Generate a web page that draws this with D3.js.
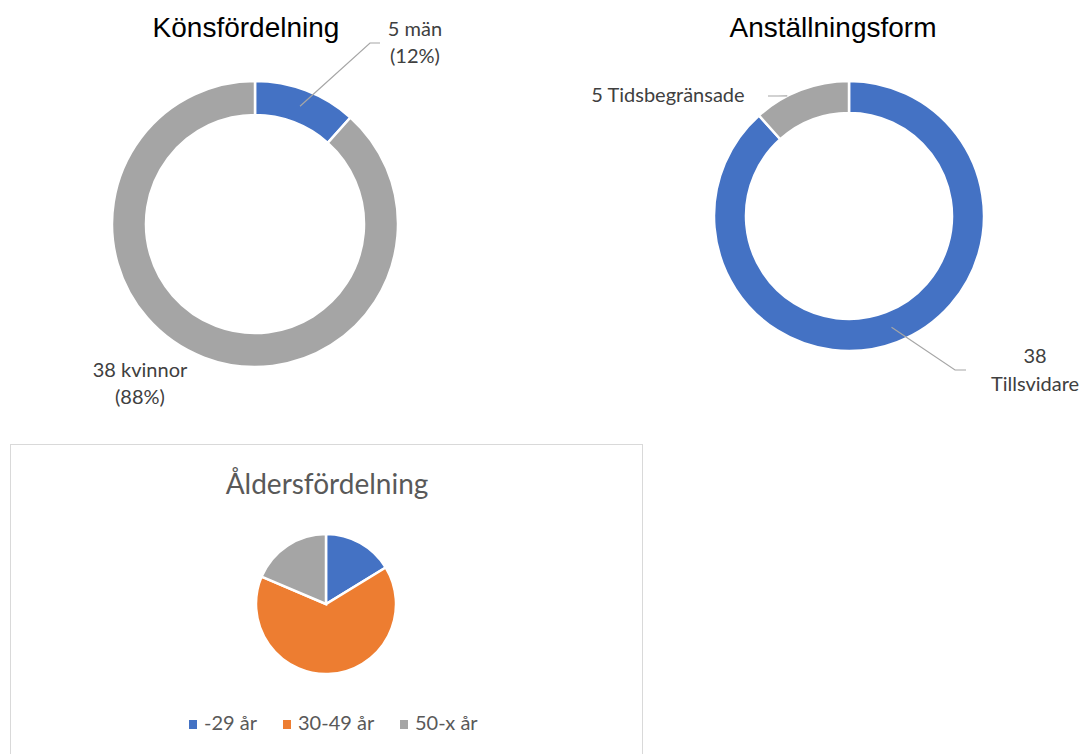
<!DOCTYPE html>
<html>
<head>
<meta charset="utf-8">
<script src="https://cdn.jsdelivr.net/npm/d3@7"></script>
<style>
  body { margin: 0; background: #fff; }
  svg { display: block; }
</style>
</head>
<body>
<div id="chart"></div>
<script>
'use strict';
// data
var genderLabels = ['män', 'kvinnor'];
var genderValues = [5, 38];
var genderPercent = ['12%', '88%'];

var employLabels = ['Tillsvidare', 'Tidsbegränsade'];
var employValues = [38, 5];

var ageLabels = ['-29 år', '30-49 år', '50-x år'];
var ageValues = [7, 28, 8];

var blue = '#4472c4', gray = '#a5a5a5', orange = '#ed7d31';
var labelFont = 'Lato, "Open Sans", sans-serif';

var svg = d3.select('#chart').append('svg')
  .attr('width', 1082)
  .attr('height', 754);

var pie = d3.pie().sort(null).value(function(d) { return d; });

function pointAt(cx, cy, angle, r) {
  return [cx + r * Math.sin(angle), cy - r * Math.cos(angle)];
}

/* Könsfördelning donut */
(function() {
  var cx = 255, cy = 224, outer = 143, inner = 109;
  var color = d3.scaleOrdinal().domain(genderLabels).range([blue, gray]);
  var arc = d3.arc().innerRadius(inner).outerRadius(outer);
  var g = svg.append('g').attr('transform', 'translate(' + cx + ',' + cy + ')');
  var arcs = pie(genderValues);
  g.selectAll('path')
    .data(arcs)
    .enter()
    .append('path')
    .attr('d', arc)
    .attr('fill', function(d, i) { return color(genderLabels[i]); })
    .attr('stroke', '#fff')
    .attr('stroke-width', 2.5);

  svg.append('text')
    .attr('x', 246).attr('y', 37)
    .attr('text-anchor', 'middle')
    .style('font-family', '"Liberation Sans", Arial, sans-serif')
    .style('font-size', '28px')
    .style('fill', '#000')
    .text('Könsfördelning');

  // leader for män
  var c = arc.centroid(arcs[0]);
  svg.append('polyline')
    .attr('points', [[cx + c[0], cy + c[1]], [370, 43], [380, 43]].join(' '))
    .attr('fill', 'none')
    .attr('stroke', '#a6a6a6')
    .attr('stroke-width', 1.2);

  var lbl = svg.append('text')
    .attr('text-anchor', 'middle')
    .style('font-family', labelFont)
    .style('font-size', '20px')
    .style('fill', '#404040');
  lbl.append('tspan').attr('x', 415).attr('y', 36).text(genderValues[0] + ' ' + genderLabels[0]);
  lbl.append('tspan').attr('x', 415).attr('y', 63).text('(' + genderPercent[0] + ')');

  var lbl2 = svg.append('text')
    .attr('text-anchor', 'middle')
    .style('font-family', labelFont)
    .style('font-size', '20px')
    .style('fill', '#404040');
  lbl2.append('tspan').attr('x', 140).attr('y', 377).text(genderValues[1] + ' ' + genderLabels[1]);
  lbl2.append('tspan').attr('x', 140).attr('y', 404).text('(' + genderPercent[1] + ')');
})();

/* Anställningsform donut */
(function() {
  var cx = 849, cy = 216, outer = 135, inner = 103;
  var color = d3.scaleOrdinal().domain(employLabels).range([blue, gray]);
  var arc = d3.arc().innerRadius(inner).outerRadius(outer);
  var g = svg.append('g').attr('transform', 'translate(' + cx + ',' + cy + ')');
  var arcs = pie(employValues);
  g.selectAll('path')
    .data(arcs)
    .enter()
    .append('path')
    .attr('d', arc)
    .attr('fill', function(d, i) { return color(employLabels[i]); })
    .attr('stroke', '#fff')
    .attr('stroke-width', 2.5);

  svg.append('text')
    .attr('x', 833).attr('y', 37)
    .attr('text-anchor', 'middle')
    .style('font-family', '"Liberation Sans", Arial, sans-serif')
    .style('font-size', '28px')
    .style('fill', '#000')
    .text('Anställningsform');

  // leader for Tillsvidare
  var c = arc.centroid(arcs[0]);
  svg.append('polyline')
    .attr('points', [[cx + c[0], cy + c[1]], [955, 370], [966, 370]].join(' '))
    .attr('fill', 'none')
    .attr('stroke', '#a6a6a6')
    .attr('stroke-width', 1.2);

  // leader for Tidsbegränsade
  var a = arcs[1].startAngle + 0.35 * (arcs[1].endAngle - arcs[1].startAngle);
  var p = pointAt(cx, cy, a, outer);
  svg.append('path')
    .attr('d', 'M768,96 L778,96 Q783,96 ' + p[0] + ',' + p[1])
    .attr('fill', 'none')
    .attr('stroke', '#a6a6a6')
    .attr('stroke-width', 1.2);

  svg.append('text')
    .attr('x', 668).attr('y', 102)
    .attr('text-anchor', 'middle')
    .style('font-family', labelFont)
    .style('font-size', '20px')
    .style('fill', '#404040')
    .text(employValues[1] + ' ' + employLabels[1]);

  var lbl = svg.append('text')
    .attr('text-anchor', 'middle')
    .style('font-family', labelFont)
    .style('font-size', '20px')
    .style('fill', '#404040');
  lbl.append('tspan').attr('x', 1035).attr('y', 363).text(employValues[0]);
  lbl.append('tspan').attr('x', 1035).attr('y', 391).text(employLabels[0]);
})();

/* Åldersfördelning pie */
(function() {
  svg.append('rect')
    .attr('x', 10.5).attr('y', 444.5)
    .attr('width', 632).attr('height', 330)
    .attr('fill', '#fff')
    .attr('stroke', '#d9d9d9')
    .attr('stroke-width', 1);

  svg.append('text')
    .attr('x', 327).attr('y', 494)
    .attr('text-anchor', 'middle')
    .style('font-family', labelFont)
    .style('font-size', '28px')
    .style('fill', '#595959')
    .text('Åldersfördelning');

  var cx = 326, cy = 604, r = 70;
  var color = d3.scaleOrdinal().domain(ageLabels).range([blue, orange, gray]);
  var arc = d3.arc().innerRadius(0).outerRadius(r);
  var g = svg.append('g').attr('transform', 'translate(' + cx + ',' + cy + ')');
  g.selectAll('path')
    .data(pie(ageValues))
    .enter()
    .append('path')
    .attr('d', arc)
    .attr('fill', function(d, i) { return color(ageLabels[i]); })
    .attr('stroke', '#fff')
    .attr('stroke-width', 2.5);

  // legend
  var legendX = [189, 283, 400];
  var legend = svg.selectAll('.legend')
    .data(ageLabels)
    .enter()
    .append('g')
    .attr('class', 'legend')
    .attr('transform', function(d, i) { return 'translate(' + legendX[i] + ',730)'; });
  legend.append('rect')
    .attr('x', 0).attr('y', -10)
    .attr('width', 8).attr('height', 9)
    .attr('fill', function(d) { return color(d); });
  legend.append('text')
    .attr('x', 15).attr('y', 0)
    .style('font-family', labelFont)
    .style('font-size', '20px')
    .style('fill', '#595959')
    .text(function(d) { return d; });
})();
</script>
</body>
</html>
